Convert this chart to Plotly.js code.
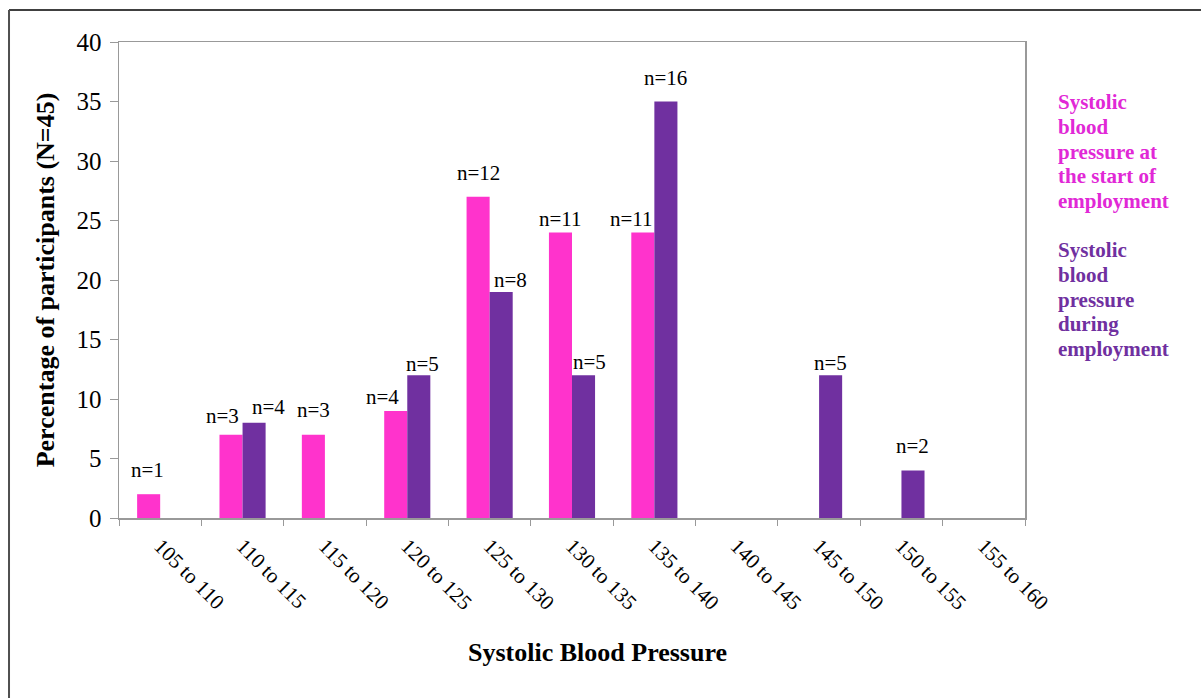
<!DOCTYPE html>
<html>
<head>
<meta charset="utf-8">
<script src="https://cdn.plot.ly/plotly-3.0.1.min.js"></script>
<style>
html,body{margin:0;padding:0;background:#fff;}
#chart{width:1201px;height:698px;}
</style>
</head>
<body>
<div id="chart"></div>
<script>
var categories = ["105 to 110","110 to 115","115 to 120","120 to 125","125 to 130","130 to 135","135 to 140","140 to 145","145 to 150","150 to 155","155 to 160"];
var startValues = [2, 7, 7, 9, 27, 24, 24, 0, 0, 0, 0];
var startLabels = ["n=1","n=3","n=3","n=4","n=12","n=11","n=11","","","",""];
var duringValues = [0, 8, 0, 12, 19, 12, 35, 0, 12, 4, 0];
var duringLabels = ["","n=4","","n=5","n=8","n=5","n=16","","n=5","n=2",""];
var seriesNames = ["Systolic|blood|pressure at|the start of|employment", "Systolic|blood|pressure|during|employment"];
var yTicks = [0,5,10,15,20,25,30,35,40];
var xTitle = "Systolic Blood Pressure";
var yTitle = "Percentage of participants (N=45)";

// label nudges (pixels) to mimic the hand-placed labels of the original
var startNudgeX = [-1, -9, 0, -13, 0, 0, -11, 0, 0, 0, 0];
var startNudgeY = [16, 11, 17, 6, 16, 5, 5, 0, 0, 0, 0];
var duringNudgeX = [0, 14, 0, 4, 9, 6, 0, 0, 0, 0, 0];
var duringNudgeY = [0, 8, 0, 3, 4, 5, 16, 0, 4, 16, 0];

var serif = "Liberation Serif, Times New Roman, serif";
var pink = "#FF33CC", purple = "#7030A0";

var traces = [
  {type:"bar", x:categories, y:startValues, marker:{color:pink}, name:"start", showlegend:false},
  {type:"bar", x:categories, y:duringValues, marker:{color:purple}, name:"during", showlegend:false}
];

var annotations = [];
var barHalf = 11.5;
function addLabels(vals, labels, nx, ny, side) {
  for (var i = 0; i < categories.length; i++) {
    if (!labels[i]) continue;
    annotations.push({
      xref:"x", yref:"y", x:categories[i], y:vals[i], text:labels[i], showarrow:false,
      xanchor:"center", yanchor:"bottom", xshift: side*barHalf + nx[i], yshift: ny[i] - 6,
      font:{family:serif, size:21, color:"#000"}
    });
  }
}
addLabels(startValues, startLabels, startNudgeX, startNudgeY, -1);
addLabels(duringValues, duringLabels, duringNudgeX, duringNudgeY, 1);

function addLegend(name, color, topPx) {
  var lines = name.split("|");
  for (var k = 0; k < lines.length; k++) {
    var yPx = topPx + k * 24.8;
    annotations.push({
      xref:"paper", yref:"paper", x:(1056 - 119) / 906, y:(518 - yPx) / 476,
      xanchor:"left", yanchor:"middle", align:"left", showarrow:false,
      text:"<b>" + lines[k] + "</b>", font:{family:serif, size:21, color:color}
    });
  }
}
addLegend(seriesNames[0], "#E128D6", 102);
addLegend(seriesNames[1], purple, 250);

annotations.push({
  xref:"paper", yref:"paper", x:(597 - 119) / 906, y:(518 - 652) / 476,
  xanchor:"center", yanchor:"middle", showarrow:false,
  text:"<b>" + xTitle + "</b>", font:{family:serif, size:26, color:"#000"}
});

var layout = {
  width:1201, height:698,
  margin:{l:119, r:176, t:42, b:180},
  paper_bgcolor:"#fff", plot_bgcolor:"#fff",
  barmode:"group", bargap:0.44, bargroupgap:0,
  font:{family:serif, color:"#000"},
  showlegend:false,
  xaxis:{
    type:"category", tickangle:45, tickson:"boundaries", ticks:"outside", ticklen:6, tickcolor:"#999",
    showline:true, linecolor:"#999", linewidth:1.5, mirror:true, showgrid:false,
    tickfont:{family:serif, size:21, color:"#000"}, ticklabelstandoff:6,
    automargin:false
  },
  yaxis:{
    range:[0,40], tickvals:yTicks, ticks:"outside", ticklen:8, tickcolor:"#999",
    showline:true, linecolor:"#999", linewidth:1.5, mirror:true, showgrid:false, zeroline:false,
    tickfont:{family:serif, size:25, color:"#000"}, ticklabelstandoff:3,
    title:{text:"<b>" + yTitle + "</b>", font:{family:serif, size:26, color:"#000"}, standoff:14},
    automargin:false
  },
  annotations:annotations,
  shapes:[
    {type:"line", xref:"paper", yref:"paper", x0:-0.1214, x1:1.3, y0:1.0672, y1:1.0672, line:{color:"#000", width:1.5}},
    {type:"line", xref:"paper", yref:"paper", x0:-0.1214, x1:-0.1214, y0:1.0672, y1:-0.5, line:{color:"#505050", width:2}}
  ]
};

Plotly.newPlot("chart", traces, layout, {displayModeBar:false, staticPlot:true});
</script>
</body>
</html>
